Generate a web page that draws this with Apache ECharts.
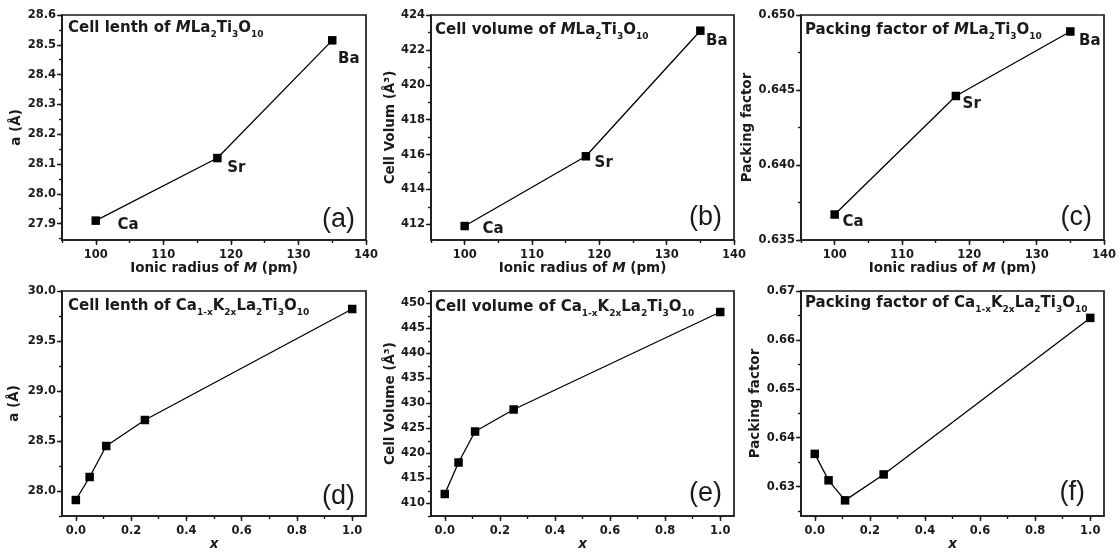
<!DOCTYPE html>
<html>
<head>
<meta charset="utf-8">
<script src="https://cdn.jsdelivr.net/npm/echarts@6/dist/echarts.min.js"></script>
<style>
html,body{margin:0;padding:0;background:#fff;}
#chart{width:1118px;height:552px;}
</style>
</head>
<body>
<div id="chart"></div>
<script>
// ---------- data ----------
const radiusM = [100, 118, 135];
const elemM = ['Ca', 'Sr', 'Ba'];
const cellLenM = [27.91, 28.12, 28.515];
const cellVolM = [411.9, 415.9, 423.1];
const packM = [0.6367, 0.6446, 0.6489];

const xK = [0, 0.05, 0.11, 0.25, 1.0];
const cellLenK = [27.91, 28.14, 28.45, 28.71, 29.82];
const cellVolK = [411.9, 418.2, 424.4, 428.8, 448.3];
const packK = [0.6367, 0.6313, 0.6272, 0.6325, 0.6645];

// ---------- tick labels ----------
const xMajorM = [100, 110, 120, 130, 140];
const xMinorM = [95, 100, 105, 110, 115, 120, 125, 130, 135, 140];
const xMajorK = [0, 0.2, 0.4, 0.6, 0.8, 1.0];
const xMinorK = [0, 0.1, 0.2, 0.3, 0.4, 0.5, 0.6, 0.7, 0.8, 0.9, 1.0];
const yMajorA = [27.9, 28.0, 28.1, 28.2, 28.3, 28.4, 28.5, 28.6];
const yMinorA = [27.85, 27.9, 27.95, 28.0, 28.05, 28.1, 28.15, 28.2, 28.25, 28.3, 28.35, 28.4, 28.45, 28.5, 28.55, 28.6];
const yMajorB = [412, 414, 416, 418, 420, 422, 424];
const yMinorB = [412, 413, 414, 415, 416, 417, 418, 419, 420, 421, 422, 423, 424];
const yMajorC = [0.635, 0.640, 0.645, 0.650];
const yMinorC = [0.635, 0.6375, 0.640, 0.6425, 0.645, 0.6475, 0.650];
const yMajorD = [28.0, 28.5, 29.0, 29.5, 30.0];
const yMinorD = [27.75, 28.0, 28.25, 28.5, 28.75, 29.0, 29.25, 29.5, 29.75, 30.0];
const yMajorE = [410, 415, 420, 425, 430, 435, 440, 445, 450];
const yMinorE = [407.5, 410, 412.5, 415, 417.5, 420, 422.5, 425, 427.5, 430, 432.5, 435, 437.5, 440, 442.5, 445, 447.5, 450, 452.5];
const yMajorF = [0.63, 0.64, 0.65, 0.66, 0.67];
const yMinorF = [0.625, 0.63, 0.635, 0.64, 0.645, 0.65, 0.655, 0.66, 0.665, 0.67];

// ---------- layout / style ----------
const FONT = 'DejaVu Sans';
const INK = '#1a1a1a';
const gridPos = [
  {left: 62, top: 15, width: 304, height: 225},
  {left: 431, top: 15, width: 303, height: 225},
  {left: 801, top: 15, width: 303, height: 225},
  {left: 62, top: 291, width: 304, height: 225},
  {left: 431, top: 291, width: 303, height: 225},
  {left: 801, top: 291, width: 303, height: 225}
];
// label offsets (dx to text left, dy to text centre) for the element labels
const labelOffA = [[22, 5], [10, 10], [6, 19]];
const labelOffB = [[18, 3], [9, 7], [6, 11]];
const labelOffC = [[8, 8], [7, 8], [9, 10]];

const panels = [
  {x: radiusM, y: cellLenM, xr: [95, 140], yr: [27.845, 28.6], xMaj: xMajorM, xMin: xMinorM, yMaj: yMajorA, yMin: yMinorA, xd: 0, yd: 1,
   yName: 'a (Å)', yGap: 39, xName: 'Ionic radius of {i|M} (pm)', labels: elemM, off: labelOffA},
  {x: radiusM, y: cellVolM, xr: [95, 140], yr: [411.1, 424], xMaj: xMajorM, xMin: xMinorM, yMaj: yMajorB, yMin: yMinorB, xd: 0, yd: 0,
   yName: 'Cell Volum (Å³)', yGap: 34, xName: 'Ionic radius of {i|M} (pm)', labels: elemM, off: labelOffB},
  {x: radiusM, y: packM, xr: [95, 140], yr: [0.635, 0.650], xMaj: xMajorM, xMin: xMinorM, yMaj: yMajorC, yMin: yMinorC, xd: 0, yd: 3,
   yName: 'Packing factor', yGap: 41, xName: 'Ionic radius of {i|M} (pm)', labels: elemM, off: labelOffC},
  {x: xK, y: cellLenK, xr: [-0.05, 1.05], yr: [27.75, 30.0], xMaj: xMajorK, xMin: xMinorK, yMaj: yMajorD, yMin: yMinorD, xd: 1, yd: 1,
   yName: 'a (Å)', yGap: 41, xName: '{i|x}'},
  {x: xK, y: cellVolK, xr: [-0.05, 1.05], yr: [407.5, 452.5], xMaj: xMajorK, xMin: xMinorK, yMaj: yMajorE, yMin: yMinorE, xd: 1, yd: 0,
   yName: 'Cell Volume (Å³)', yGap: 34, xName: '{i|x}'},
  {x: xK, y: packK, xr: [-0.05, 1.05], yr: [0.624, 0.670], xMaj: xMajorK, xMin: xMinorK, yMaj: yMajorF, yMin: yMinorF, xd: 1, yd: 2,
   yName: 'Packing factor', yGap: 37, xName: '{i|x}'}
];

const tickLine = {color: INK, width: 1.4};
const labelStyle = {fontFamily: FONT, fontWeight: 'bold', fontSize: 11.5, color: INK};
const nameStyle = {fontFamily: FONT, fontWeight: 'bold', fontSize: 13.5, color: INK,
  rich: {i: {fontFamily: FONT, fontWeight: 'bold', fontStyle: 'italic', fontSize: 13.5, color: INK}}};

const grids = [], xAxes = [], yAxes = [], series = [];
panels.forEach((p, g) => {
  grids.push(Object.assign({show: true, borderColor: INK, borderWidth: 1.7, backgroundColor: 'transparent',
    containLabel: false, outerBoundsMode: 'none'}, gridPos[g]));
  const mk = (isY, minorVals, majorVals, range, dec, name, gap) => {
    const base = {type: 'value', gridIndex: g, min: range[0], max: range[1], position: isY ? 'left' : 'bottom',
      offset: 0, splitLine: {show: false}};
    const minor = Object.assign({}, base, {
      axisLine: {show: true, onZero: false, lineStyle: {color: INK, width: 1.7}},
      axisTick: {show: true, length: 3, customValues: minorVals, lineStyle: tickLine},
      axisLabel: {show: false}
    });
    const major = Object.assign({}, base, {
      axisLine: {show: false, onZero: false},
      axisTick: {show: true, length: 5, customValues: majorVals, lineStyle: tickLine},
      axisLabel: Object.assign({show: true, customValues: majorVals, margin: isY ? 6 : 9,
        formatter: v => Number(v).toFixed(dec)}, labelStyle),
      name: name, nameLocation: 'middle', nameGap: gap,
      nameTextStyle: nameStyle
    });
    return [minor, major];
  };
  xAxes.push(...mk(false, p.xMin, p.xMaj, p.xr, p.xd, p.xName, 21));
  yAxes.push(...mk(true, p.yMin, p.yMaj, p.yr, p.yd, p.yName, p.yGap));
  const data = p.x.map((xv, i) => {
    const item = {value: [xv, p.y[i]]};
    if (p.labels) {
      item.label = {show: true, formatter: p.labels[i], position: [p.off[i][0] + 4, p.off[i][1] + 4],
        align: 'left', verticalAlign: 'middle', fontFamily: FONT, fontWeight: 'bold', fontSize: 15, color: INK};
    }
    return item;
  });
  series.push({
    type: 'line', xAxisIndex: 2 * g, yAxisIndex: 2 * g, data: data,
    symbol: 'rect', symbolSize: 8.5, showSymbol: true,
    itemStyle: {color: '#000'}, lineStyle: {color: '#000', width: 1.3},
    emphasis: {disabled: true}, z: 3
  });
});

const richTitle = {
  b: {fontFamily: FONT, fontWeight: 'bold', fontSize: 15, lineHeight: 22, color: INK},
  i: {fontFamily: FONT, fontWeight: 'bold', fontStyle: 'italic', fontSize: 15, lineHeight: 22, color: INK},
  s: {fontFamily: FONT, fontWeight: 'bold', fontSize: 9, lineHeight: 10, verticalAlign: 'bottom', color: INK}
};
const panelTitles = [
  {text: '{b|Cell lenth of }{i|M}{b|La}{s|2}{b|Ti}{s|3}{b|O}{s|10}', left: 68, top: 17},
  {text: '{b|Cell volume of }{i|M}{b|La}{s|2}{b|Ti}{s|3}{b|O}{s|10}', left: 435, top: 19},
  {text: '{b|Packing factor of }{i|M}{b|La}{s|2}{b|Ti}{s|3}{b|O}{s|10}', left: 805, top: 19},
  {text: '{b|Cell lenth of Ca}{s|1-x}{b|K}{s|2x}{b|La}{s|2}{b|Ti}{s|3}{b|O}{s|10}', left: 68, top: 295},
  {text: '{b|Cell volume of Ca}{s|1-x}{b|K}{s|2x}{b|La}{s|2}{b|Ti}{s|3}{b|O}{s|10}', left: 435, top: 296},
  {text: '{b|Packing factor of Ca}{s|1-x}{b|K}{s|2x}{b|La}{s|2}{b|Ti}{s|3}{b|O}{s|10}', left: 805, top: 292}
];
const letters = [
  {text: '(a)', right: 763, top: 205},
  {text: '(b)', right: 396, top: 203},
  {text: '(c)', right: 26, top: 203},
  {text: '(d)', right: 763, top: 482},
  {text: '(e)', right: 396, top: 479},
  {text: '(f)', right: 33, top: 478}
];
const titles = [];
panelTitles.forEach(t => titles.push({text: t.text, left: t.left, top: t.top, padding: 0,
  textStyle: {rich: richTitle, fontFamily: FONT, fontWeight: 'bold', fontSize: 15}}));
letters.forEach(t => titles.push({text: t.text, right: t.right, top: t.top, padding: 0,
  textStyle: {fontFamily: 'Liberation Sans', fontWeight: 'normal', fontSize: 27, lineHeight: 30, color: INK}}));

const chart = echarts.init(document.getElementById('chart'), null, {renderer: 'canvas'});
chart.setOption({
  backgroundColor: '#fff',
  animation: false,
  title: titles,
  grid: grids,
  xAxis: xAxes,
  yAxis: yAxes,
  series: series
});
</script>
</body>
</html>
